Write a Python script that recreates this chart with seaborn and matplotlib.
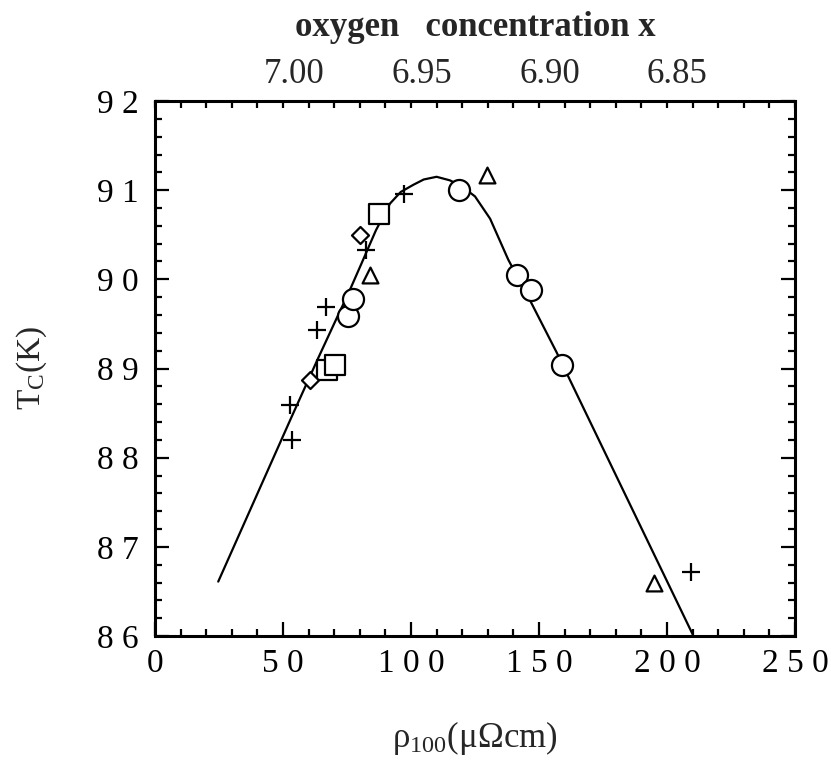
import numpy as np
import pandas as pd
import matplotlib
matplotlib.use("Agg")
import matplotlib.pyplot as plt
import seaborn as sns
from matplotlib.ticker import MultipleLocator

# ---- data ----
circle_rho = [75.5, 77.5, 118.9, 141.5, 146.7, 158.9]
circle_tc = [89.59, 89.78, 91.00, 90.05, 89.88, 89.04]
square_rho = [67.3, 70.3, 87.6]
square_tc = [88.98, 89.04, 90.73]
diamond_rho = [60.5, 80.1]
diamond_tc = [88.87, 90.50]
triangle_rho = [84.0, 129.8, 194.9]
triangle_tc = [90.05, 91.17, 86.59]
plus_rho = [53.4, 52.7, 63.2, 66.8, 82.4, 97.3, 209.2]
plus_tc = [88.20, 88.59, 89.43, 89.69, 90.33, 90.96, 86.72]

curve_rho = [24.7, 53.4, 63.8, 70.9, 75.5, 80.7, 86.3, 91.8, 96.0, 100.9, 105.0,
             110.0, 115.2, 120.0, 125.0, 130.9, 138.0, 147.1, 156.9, 210.0]
curve_tc = [86.61, 88.46, 89.12, 89.56, 89.84, 90.18, 90.55, 90.85, 90.98, 91.06, 91.12,
            91.15, 91.11, 91.04, 90.93, 90.68, 90.22, 89.73, 89.18, 86.02]

x_ticks = [0, 50, 100, 150, 200, 250]
y_ticks = [86, 87, 88, 89, 90, 91, 92]
oxygen_labels = ["7.00", "6.95", "6.90", "6.85"]
oxygen_rho = [54.3, 104.3, 154.3, 204.0]

sns.set_theme(style="ticks")
plt.rcParams["font.family"] = ["Liberation Serif", "DejaVu Serif"]
plt.rcParams["mathtext.fontset"] = "custom"
plt.rcParams["mathtext.rm"] = "Liberation Serif"
plt.rcParams["mathtext.it"] = "Liberation Serif:italic"

FS = 24

fig = plt.figure(figsize=(8.31, 7.67), dpi=100)
ax = fig.add_axes([155 / 831, 1 - 636 / 767, 640 / 831, 535 / 767])

curve = pd.DataFrame({"rho": curve_rho, "tc": curve_tc})
sns.lineplot(data=curve, x="rho", y="tc", sort=False, color="black", lw=1.6, ax=ax, zorder=2)

def group(r, t, marker, size):
    df = pd.DataFrame({"rho": r, "tc": t})
    if marker == "+":
        sns.scatterplot(data=df, x="rho", y="tc", marker="+", s=size, color="black",
                        linewidth=1.6, ax=ax, zorder=3)
    else:
        sns.scatterplot(data=df, x="rho", y="tc", marker=marker, s=size, facecolor="white",
                        edgecolor="black", linewidth=1.6, ax=ax, zorder=3)

group(circle_rho, circle_tc, "o", 230)
group(square_rho, square_tc, "s", 200)
group(diamond_rho, diamond_tc, "D", 75)
group(triangle_rho, triangle_tc, "^", 130)
group(plus_rho, plus_tc, "+", 160)

ax.set_xlim(0, 250)
ax.set_ylim(86, 92)
ax.set_xticks(x_ticks)
ax.set_yticks(y_ticks)
ax.set_xticklabels([" ".join(str(v)) for v in x_ticks], fontsize=FS)
ax.set_yticklabels([" ".join(str(v)) for v in y_ticks], fontsize=FS)
ax.xaxis.set_minor_locator(MultipleLocator(10))
ax.yaxis.set_minor_locator(MultipleLocator(0.2))
ax.tick_params(which="major", direction="in", length=10, width=1.6, top=False, right=True,
               labelsize=FS, color="black", labelcolor="black")
ax.tick_params(axis="x", which="major", pad=9)
ax.tick_params(axis="y", which="major", pad=12)
ax.tick_params(which="minor", direction="in", length=5, width=1.6, top=False, right=True,
               color="black")
for s in ax.spines.values():
    s.set_linewidth(2.2)
    s.set_color("black")

ax.set_xlabel(r"$\mathregular{\rho_{100}}$(μΩcm)", fontsize=FS + 1, labelpad=29)
ax.set_ylabel(r"$\mathregular{T_C}$(K)", fontsize=FS, labelpad=34)

top = ax.twiny()
top.set_xlim(ax.get_xlim())
top.set_xticks(oxygen_rho)
top.set_xticklabels(oxygen_labels, fontsize=FS + 1)
top.xaxis.set_minor_locator(MultipleLocator(10))
top.tick_params(axis="x", which="major", length=0, pad=7, labelsize=FS + 1)
top.tick_params(axis="x", which="minor", direction="in", length=5, width=1.6, color="black")
top.set_xlabel("oxygen   concentration x", fontsize=FS + 1, fontweight="bold", labelpad=16)
for s in top.spines.values():
    s.set_visible(False)

fig.savefig("out.png", dpi=100, facecolor="white")
